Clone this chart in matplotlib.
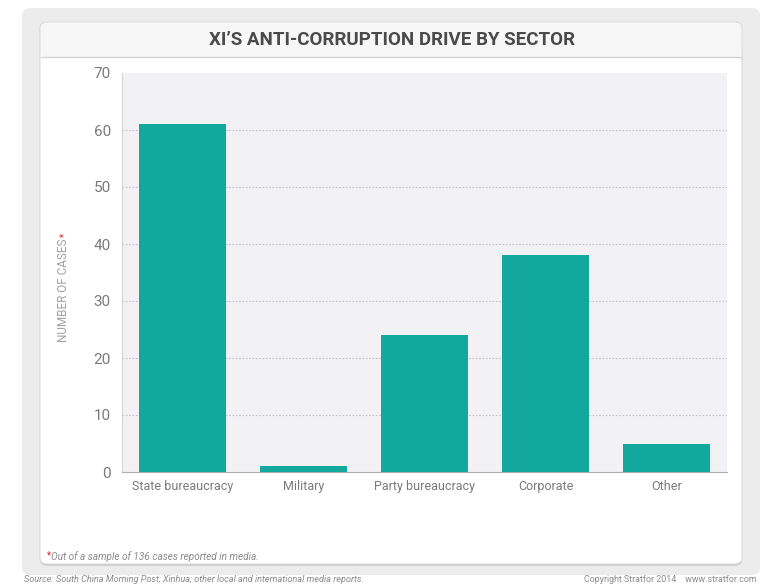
import matplotlib
matplotlib.use("Agg")
import matplotlib.pyplot as plt
from matplotlib.patches import FancyBboxPatch
from matplotlib.lines import Line2D

# data
sectors = ["State bureaucracy", "Military", "Party bureaucracy", "Corporate", "Other"]
cases = [61, 1, 24, 38, 5]
yticks = [0, 10, 20, 30, 40, 50, 60, 70]

title = "XI\u2019S ANTI-CORRUPTION DRIVE BY SECTOR"
ylabel = "NUMBER OF CASES"
note = "Out of a sample of 136 cases reported in media."
source = "Source: South China Morning Post; Xinhua; other local and international media reports."
copyright_txt = "Copyright Stratfor 2014    www.stratfor.com"

TEAL = "#13a89e"
GREY = "#7a7a7a"
RED = "#d0282e"
FONT = ["Roboto", "DejaVu Sans"]

plt.rcParams["font.family"] = FONT

W, H = 784, 588
fig = plt.figure(figsize=(W / 100, H / 100), dpi=100)
fig.patch.set_facecolor("white")


def px(x, y):
    """pixel coords (from top-left) -> figure fraction"""
    return x / W, 1 - y / H


# outer grey frame
x0, y0 = px(22, 575)
fig.patches.append(FancyBboxPatch((x0, y0), (760 - 22) / W, (575 - 8) / H,
                                  boxstyle="round,pad=0,rounding_size=0.012",
                                  transform=fig.transFigure, fc="#ececec", ec="none", zorder=0))
# white card with faint shadow
x0, y0 = px(40, 564)
fig.patches.append(FancyBboxPatch((x0, y0 - 0.003), (742 - 40) / W, (564 - 22) / H,
                                  boxstyle="round,pad=0,rounding_size=0.01",
                                  transform=fig.transFigure, fc="#c8c8c8", ec="none", zorder=0.5))
fig.patches.append(FancyBboxPatch((x0, y0), (742 - 40) / W, (564 - 22) / H,
                                  boxstyle="round,pad=0,rounding_size=0.01",
                                  transform=fig.transFigure, fc="white", ec="#dadada", lw=0.8, zorder=1))
# header band
x0, y0 = px(41, 57)
fig.patches.append(FancyBboxPatch((x0, y0), (741 - 41) / W, (57 - 23) / H,
                                  boxstyle="round,pad=0,rounding_size=0.008",
                                  transform=fig.transFigure, fc="#f7f7f7", ec="none", zorder=1.2))
lx0, ly = px(41, 57)
lx1, _ = px(741, 57)
fig.lines.append(Line2D([lx0, lx1], [ly, ly], transform=fig.transFigure, color="#d2d2d2", lw=1, zorder=1.3))

tx, ty = px(392, 40)
fig.text(tx, ty, title, ha="center", va="center", fontsize=13.5, fontweight="bold",
         color="#4a4a4a", zorder=3)

# axes
ax_l, ax_b = px(122, 472)
ax = fig.add_axes([ax_l, ax_b, (727 - 122) / W, (472 - 73) / H], zorder=2)
ax.set_facecolor("#f2f2f4")

xs = range(len(sectors))
ax.bar(xs, cases, width=0.72, color=TEAL, zorder=3)
ax.set_xlim(-0.5, len(sectors) - 0.5)
ax.set_ylim(0, 70)
ax.set_yticks(yticks)
ax.set_yticklabels([str(v) for v in yticks])
ax.set_xticks(list(xs))
ax.set_xticklabels(sectors)
ax.tick_params(axis="both", length=0, colors=GREY)
ax.tick_params(axis="y", pad=8, labelsize=11)
ax.tick_params(axis="x", pad=6, labelsize=9)
for v in yticks[1:-1]:
    ax.axhline(v, color="#c4c4c8", lw=0.8, ls=(0, (1.5, 1.5)), zorder=1)
for s in ["top", "right"]:
    ax.spines[s].set_visible(False)
ax.spines["left"].set_color("#d4d4d4")
ax.spines["bottom"].set_color("#b0b0b0")

# y label with red star
lx, lyy = px(64, 290)
yl = fig.text(lx, lyy, ylabel, rotation=90, ha="center", va="center",
              fontsize=8.5, color="#a0a0a0", zorder=3)
fig.canvas.draw()
bb = yl.get_window_extent(fig.canvas.get_renderer())
fig.text((bb.x1 - 1) / W, (bb.y1 + 1) / H, "*", rotation=90, ha="right", va="bottom",
         fontsize=7, color=RED, zorder=3)

# footnote
nx_, ny_ = px(47, 555)
star = fig.text(nx_, ny_, "*", ha="left", va="center", fontsize=7, color=RED, zorder=3)
fig.canvas.draw()
sb = star.get_window_extent(fig.canvas.get_renderer())
fig.text(sb.x1 / W, ny_ - 0.003, note, ha="left", va="center", fontsize=7.2, style="italic",
         color="#8a8a8a", zorder=3)

sx, sy = px(24, 580)
fig.text(sx, sy, source, ha="left", va="center", fontsize=6.6, style="italic", color="#8a8a8a")
cx, cy = px(757, 580)
fig.text(cx, cy, copyright_txt, ha="right", va="center", fontsize=6.4, color="#8a8a8a")

fig.savefig("out.png", dpi=100, facecolor="white")
